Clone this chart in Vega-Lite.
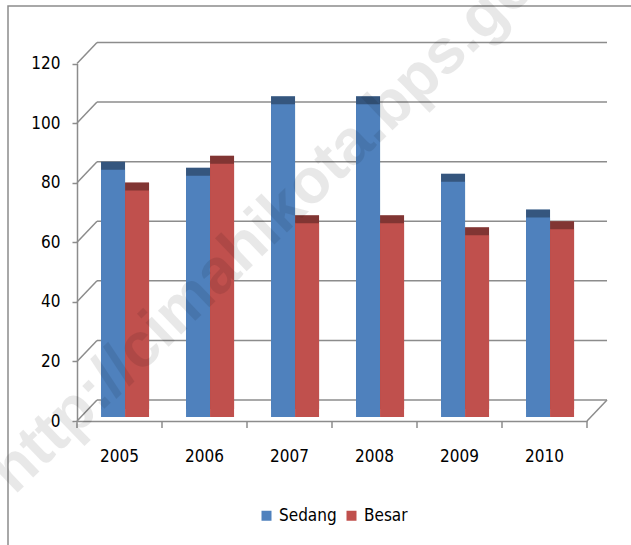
{
  "$schema": "https://vega.github.io/schema/vega-lite/v6.json",
  "width": 640,
  "height": 545,
  "autosize": "none",
  "padding": {"left": 8, "top": 6, "right": 0, "bottom": 0},
  "config": {
    "view": {"stroke": "#8c8c8c", "strokeWidth": 1.5},
    "font": "DejaVu Sans Condensed, DejaVu Sans, sans-serif"
  },
  "datasets": {
    "bars": [
      {"year": "2005", "series": "Sedang", "value": 83},
      {"year": "2005", "series": "Besar", "value": 76},
      {"year": "2006", "series": "Sedang", "value": 81},
      {"year": "2006", "series": "Besar", "value": 85},
      {"year": "2007", "series": "Sedang", "value": 105},
      {"year": "2007", "series": "Besar", "value": 65},
      {"year": "2008", "series": "Sedang", "value": 105},
      {"year": "2008", "series": "Besar", "value": 65},
      {"year": "2009", "series": "Sedang", "value": 79},
      {"year": "2009", "series": "Besar", "value": 61},
      {"year": "2010", "series": "Sedang", "value": 67},
      {"year": "2010", "series": "Besar", "value": 63}
    ],
    "grid": [{"v": 0}, {"v": 20}, {"v": 40}, {"v": 60}, {"v": 80}, {"v": 100}, {"v": 120}],
    "years": [{"year": "2005"}, {"year": "2006"}, {"year": "2007"}, {"year": "2008"}, {"year": "2009"}, {"year": "2010"}]
  },
  "data": {"name": "bars"},
  "layer": [
    {
      "data": {"name": "grid"},
      "mark": {"type": "rule", "color": "#8c8c8c", "strokeWidth": 1.5, "yOffset": -21, "xOffset": 20, "x2Offset": 62.5},
      "encoding": {
        "x": {"datum": "2005", "type": "nominal", "bandPosition": 0, "title": null,
              "scale": {"type": "band", "domain": ["2005", "2006", "2007", "2008", "2009", "2010"], "range": [69, 579], "paddingInner": 0, "paddingOuter": 0}},
        "x2": {"datum": "2010"},
        "y": {"field": "v", "type": "quantitative", "title": null,
              "scale": {"domain": [0, 120], "range": [415, 57.5], "nice": false, "zero": true}}
      }
    },
    {
      "data": {"name": "grid"},
      "mark": {"type": "rule", "color": "#8c8c8c", "strokeWidth": 1.5, "x2Offset": -22.5, "y2Offset": -21},
      "encoding": {
        "x": {"datum": "2005", "type": "nominal", "bandPosition": 0, "title": null},
        "x2": {"datum": "2005"},
        "y": {"field": "v", "type": "quantitative", "title": null},
        "y2": {"field": "v"}
      }
    },
    {
      "data": {"values": [{"v": 0}]},
      "mark": {"type": "rule", "color": "#8c8c8c", "strokeWidth": 1.5, "x2Offset": 62.5, "y2Offset": -21},
      "encoding": {
        "x": {"datum": "2010", "type": "nominal", "bandPosition": 1, "title": null},
        "x2": {"datum": "2010"},
        "y": {"field": "v", "type": "quantitative", "title": null},
        "y2": {"field": "v"}
      }
    },
    {
      "data": {"name": "years"},
      "mark": {"type": "rule", "color": "#8c8c8c", "strokeWidth": 1.5, "y2Offset": 7},
      "encoding": {
        "x": {"field": "year", "type": "nominal", "bandPosition": 0, "title": null},
        "y": {"datum": 0, "type": "quantitative", "title": null},
        "y2": {"datum": 0}
      }
    },
    {
      "data": {"values": [{"v": 0}]},
      "mark": {"type": "rule", "color": "#8c8c8c", "strokeWidth": 1.5, "y2Offset": 7},
      "encoding": {
        "x": {"datum": "2010", "type": "nominal", "bandPosition": 1, "title": null},
        "y": {"field": "v", "type": "quantitative", "title": null},
        "y2": {"field": "v"}
      }
    },
    {
      "mark": {"type": "bar", "xOffset": 8, "yOffset": -12, "y2Offset": -12},
      "encoding": {
        "x": {"field": "year", "type": "nominal", "title": null},
        "xOffset": {"field": "series", "type": "nominal", "sort": ["Sedang", "Besar"],
                    "scale": {"paddingInner": 0, "paddingOuter": 0.77, "align": 0.65}},
        "y": {"field": "value", "type": "quantitative", "title": null},
        "color": {"field": "series", "type": "nominal", "sort": ["Sedang", "Besar"]}
      }
    },
    {
      "mark": {"type": "bar", "xOffset": 8, "yOffset": -12, "y2Offset": -12, "color": "#000000", "opacity": 0.33},
      "encoding": {
        "x": {"field": "year", "type": "nominal", "title": null},
        "xOffset": {"field": "series", "type": "nominal", "sort": ["Sedang", "Besar"]},
        "y": {"field": "value", "type": "quantitative", "title": null}
      }
    },
    {
      "mark": {"type": "bar", "yOffset": -4, "y2Offset": -4},
      "encoding": {
        "x": {"field": "year", "type": "nominal",
              "axis": {"orient": "bottom", "offset": -130, "bandPosition": 0.5, "labelAlign": "center", "ticks": false, "tickSize": 0,
                       "title": null, "labelAngle": 0,
                       "labelFontSize": 17, "labelColor": "#000", "domainColor": "#8c8c8c",
                       "domainWidth": 1.5, "labelPadding": 35}},
        "xOffset": {"field": "series", "type": "nominal", "sort": ["Sedang", "Besar"]},
        "y": {"field": "value", "type": "quantitative",
              "axis": {"values": [0, 20, 40, 60, 80, 100, 120], "offset": -69, "title": null, "grid": false,
                       "labelFontSize": 17, "labelColor": "#000", "domainColor": "#8c8c8c", "tickColor": "#8c8c8c",
                       "domainWidth": 1.5, "tickWidth": 1.5, "tickSize": 5, "labelPadding": 12}},
        "color": {"field": "series", "type": "nominal", "sort": ["Sedang", "Besar"],
                  "scale": {"domain": ["Sedang", "Besar"], "range": ["#4f81bd", "#c0504d"]},
                  "legend": {"title": null, "orient": "none", "legendX": 250, "legendY": 501, "direction": "horizontal",
                             "symbolType": "square", "symbolSize": 100, "symbolStrokeWidth": 0, "labelFontSize": 17,
                             "labelColor": "#000", "columnPadding": 6, "labelOffset": 4}}
      }
    },
    {
      "data": {"values": [{"t": "http://cimahikota.bps.go.id"}]},
      "mark": {"type": "text", "angle": -44, "fontSize": 63, "fontWeight": "bold", "font": "Liberation Sans",
               "fill": "#000000", "opacity": 0.085, "align": "center", "baseline": "middle"},
      "encoding": {
        "text": {"field": "t"},
        "x": {"datum": "2007", "type": "nominal", "bandPosition": 0.5, "title": null},
        "y": {"datum": 73, "type": "quantitative", "title": null}
      }
    }
  ]
}
